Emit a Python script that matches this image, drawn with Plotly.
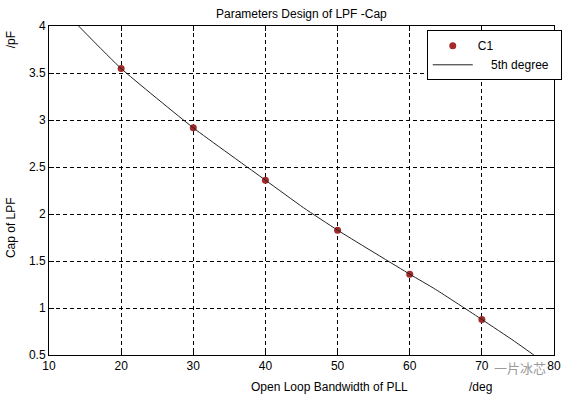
import plotly.graph_objects as go

# Measured data points (C1)
bandwidth = [20, 30, 40, 50, 60, 70]
cap_c1 = [3.548, 2.917, 2.360, 1.828, 1.360, 0.878]

# 5th-degree fit curve
fit_x = [14.1, 20, 30, 40, 45.3, 50, 60, 63.6, 70, 74.5, 77.2]
fit_y = [4.0, 3.548, 2.917, 2.360, 2.066, 1.828, 1.360, 1.197, 0.878, 0.647, 0.5]

x_ticks = [10, 20, 30, 40, 50, 60, 70, 80]
y_ticks = [0.5, 1, 1.5, 2, 2.5, 3, 3.5, 4]

FONT = "Liberation Sans, Arial, sans-serif"

fig = go.Figure()
fig.add_trace(go.Scatter(
    x=bandwidth, y=cap_c1, mode="markers", name="C1",
    marker=dict(color="#A52A2A", size=7, line=dict(width=0)),
))
fig.add_trace(go.Scatter(
    x=fit_x, y=fit_y, mode="lines",
    name="\u00a0\u00a0\u00a0\u00a05th degree\u00a0\u00a0",
    line=dict(color="#222222", width=1, shape="spline", smoothing=0.5),
))

axis_common = dict(
    showgrid=True, gridcolor="#000000", gridwidth=1, griddash="4px,3px",
    showline=True, linecolor="#000000", linewidth=1, mirror="ticks",
    ticks="inside", ticklen=5, tickcolor="#000000",
    zeroline=False, tickfont=dict(family=FONT, size=12, color="#000000"),
)

fig.update_xaxes(range=[10, 80], tickvals=x_ticks, ticktext=[str(v) for v in x_ticks], **axis_common)
fig.update_yaxes(range=[0.5, 4], tickvals=y_ticks, ticktext=[f"{v:g}" for v in y_ticks], **axis_common)

fig.update_layout(
    width=574, height=394,
    margin=dict(l=49, r=13, t=26, b=39),
    paper_bgcolor="#ffffff", plot_bgcolor="#ffffff",
    font=dict(family=FONT, size=12, color="#000000"),
    showlegend=True,
    legend=dict(
        x=(432 - 49) / 512, xanchor="left", y=(355 - 30) / 329.3, yanchor="top",
        bgcolor="#ffffff", bordercolor="#000000", borderwidth=1,
        font=dict(family=FONT, size=12, color="#000000"),
        itemwidth=40, tracegroupgap=0,
    ),
    annotations=[
        dict(text="Parameters Design of LPF -Cap", xref="paper", yref="paper",
             x=0.5, y=1, yshift=12, showarrow=False, xanchor="center", yanchor="middle",
             font=dict(family=FONT, size=12, color="#000000")),
        dict(text="Open Loop Bandwidth of PLL", xref="paper", yref="paper",
             x=(333 - 49) / 512, y=0, yshift=-32, showarrow=False, xanchor="center", yanchor="middle",
             font=dict(family=FONT, size=12, color="#000000")),
        dict(text="/deg", xref="paper", yref="paper",
             x=(486 - 49) / 512, y=0, yshift=-32, showarrow=False, xanchor="center", yanchor="middle",
             font=dict(family=FONT, size=12, color="#000000")),
        dict(text="Cap of LPF", xref="paper", yref="paper",
             x=0, xshift=-38, y=(355 - 228) / 329.3, showarrow=False, textangle=-90,
             xanchor="center", yanchor="middle",
             font=dict(family=FONT, size=12, color="#000000")),
        dict(text="/pF", xref="paper", yref="paper",
             x=0, xshift=-38, y=(355 - 40) / 329.3, showarrow=False, textangle=-90,
             xanchor="center", yanchor="middle",
             font=dict(family=FONT, size=12, color="#000000")),
        dict(text="一片冰芯", xref="paper", yref="paper",
             x=(527 - 49) / 512, y=0, yshift=-12, showarrow=False, xanchor="center", yanchor="middle",
             font=dict(family="Noto Sans CJK SC", size=13, color="#9a9a9a")),
    ],
)

fig.write_html("out.html", config={"displayModeBar": False},
               post_script="document.body.style.margin='0';")
